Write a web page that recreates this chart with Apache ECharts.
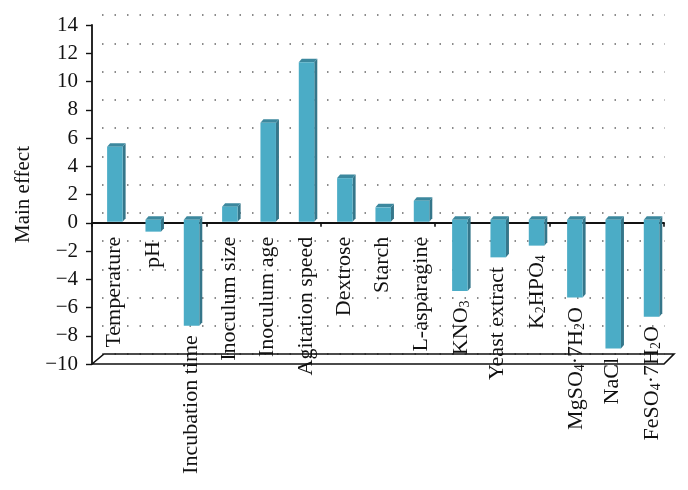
<!DOCTYPE html>
<html><head><meta charset="utf-8">
<style>html,body{margin:0;padding:0;background:#fff}#c{width:688px;height:490px}</style>
<script src="https://cdn.jsdelivr.net/npm/echarts@6/dist/echarts.min.js"></script>
</head><body><div id="c"></div>
<script>
const categories = ['Temperature','pH','Incubation time','Inoculum size','Inoculum age','Agitation speed','Dextrose','Starch','L-asparagine','KNO3','Yeast extract','K2HPO4','MgSO4·7H2O','NaCl','FeSO4·7H2O'];
const labels = ['Temperature','pH','Incubation time','Inoculum size','Inoculum age','Agitation speed','Dextrose','Starch','L-asparagine','KNO{s|3}','Yeast extract','K{s|2}HPO{s|4}','MgSO{s|4}·7H{s|2}O','NaCl','FeSO{s|4}·7H{s|2}O'];
const effects = [5.38,-0.63,-7.29,1.14,7.08,11.36,3.16,1.09,1.56,-4.83,-2.45,-1.62,-5.3,-8.9,-6.65];
const yTicks = {min:-10,max:14,interval:2};
const FONT = '"Liberation Serif","Times New Roman",serif';
const chart = echarts.init(document.getElementById('c'),null,{renderer:'canvas'});

function barItem(params, api){
  const i = api.value(0), v = api.value(1);
  const cx = api.coord([i,0])[0] + 3.8 + i*0.2;
  const y0 = api.coord([i,0])[1];
  const yv = api.coord([i,v])[1];
  const w = 15.5, dx = 3, dy = 3.5;
  const l = cx - w/2, r = cx + w/2;
  const top = v >= 0 ? yv : y0 - 3;
  const bot = v >= 0 ? y0 - 1 : yv;
  return {type:'group',children:[
    {type:'polygon',shape:{points:[[r,top],[r+dx,top-dy],[r+dx,bot-dy],[r,bot]]},style:{fill:'#35768a'}},
    {type:'polygon',shape:{points:[[l,top],[l+dx,top-dy],[r+dx,top-dy],[r,top]]},style:{fill:'#3c889e'}},
    {type:'rect',shape:{x:l,y:top,width:w,height:bot-top},style:{fill:'#4bacc6'}}
  ]};
}
function labelItem(params, api){
  const i = api.value(0), v = api.value(1);
  const hasSub = labels[i].indexOf('{') >= 0;
  const x = api.coord([i,0])[0] + 3.5 + i*0.15 + (hasSub ? 2 : 0);
  const y0 = api.coord([i,0])[1];
  const yv = api.coord([i,Math.min(v,0)])[1];
  const y = Math.max(y0 + 14, yv + 9.5);
  return {type:'text',x:x,y:y,rotation:Math.PI/2,z2:10,style:{
    text:labels[i],fill:'#111',align:'right',verticalAlign:'middle',
    font:'22px '+FONT,
    rich:{s:{fontFamily:FONT,fontSize:14,fill:'#111',verticalAlign:'bottom'}}
  }};
}
function floorItem(params, api){
  if(params.dataIndex!==0) return null;
  const band = api.size([1,0])[0];
  const n = categories.length;
  const x0 = api.coord([0,-10])[0]-band/2, x1 = api.coord([n-1,-10])[0]+band/2;
  const y = api.coord([0,-10])[1];
  const s = {stroke:'#111',lineWidth:1.6,fill:null};
  return {type:'polygon',shape:{points:[[x0,y],[x0+12,y-10],[x1+10,y-10],[x1,y]]},style:s};
}
const rows = categories.map((c,i)=>[i,effects[i]]);
chart.setOption({
  animation:false,
  backgroundColor:'#fff',
  grid:[
    {left:92,top:25,width:572,height:339},
    {left:102,top:15,width:563,height:339}
  ],
  xAxis:[
    {type:'category',gridIndex:0,data:categories,
      axisLine:{onZero:true,lineStyle:{color:'#111',width:1.8}},
      axisTick:{show:true,length:4,lineStyle:{color:'#111',width:1.6}},
      axisLabel:{show:false},splitLine:{show:false}},
    {type:'category',gridIndex:1,data:categories,show:false}
  ],
  yAxis:[
    {type:'value',gridIndex:0,min:yTicks.min,max:yTicks.max,interval:yTicks.interval,
      name:'Main effect',nameLocation:'middle',nameGap:54,nameRotate:90,
      nameTextStyle:{fontFamily:FONT,fontSize:21,color:'#111'},
      axisLine:{show:true,onZero:false,lineStyle:{color:'#111',width:1.8}},
      axisTick:{show:true,length:6,lineStyle:{color:'#111',width:1.4}},
      axisLabel:{fontFamily:FONT,fontSize:21,color:'#111',margin:14,
        formatter:v=>String(v).replace('-','\u2212')},
      splitLine:{show:false}},
    {type:'value',gridIndex:1,min:yTicks.min,max:yTicks.max,interval:yTicks.interval,
      axisLine:{show:false},axisTick:{show:false},axisLabel:{show:false},
      splitLine:{show:true,lineStyle:{color:'#666',width:1.5,type:[1.5,11]}}}
  ],
  series:[
    {type:'custom',xAxisIndex:0,yAxisIndex:0,data:rows,renderItem:floorItem,clip:false,z:1,silent:true,encode:{x:0,y:1}},
    {type:'custom',xAxisIndex:0,yAxisIndex:0,data:rows,renderItem:barItem,clip:false,z:2,silent:true,encode:{x:0,y:1}},
    {type:'custom',xAxisIndex:0,yAxisIndex:0,data:rows,renderItem:labelItem,clip:false,z:5,silent:true,encode:{x:0,y:1}}
  ]
});
</script></body></html>
